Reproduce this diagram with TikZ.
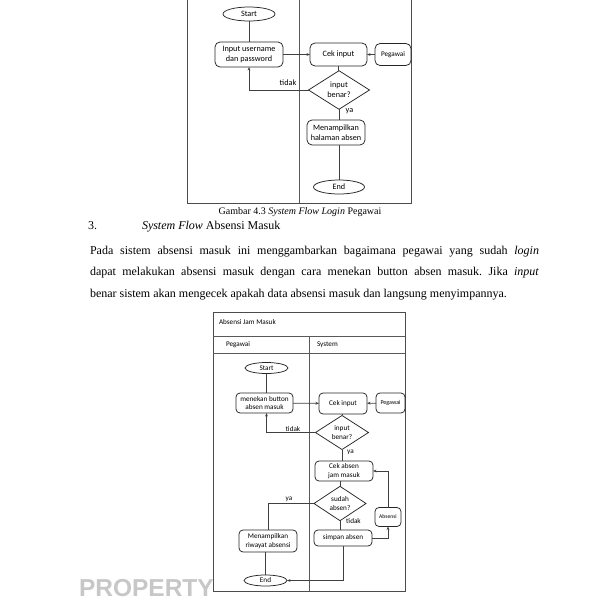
\documentclass[tikz,border=0pt]{standalone}
\usepackage{fontspec}
\setmainfont{Liberation Serif}
\newfontfamily\dsf{Carlito}
\newfontfamily\wmf{Liberation Sans}
\usetikzlibrary{shapes.geometric,arrows.meta}
\frenchspacing
\begin{document}
\begin{tikzpicture}[x=1pt,y=-1pt,
  every node/.style={inner sep=0pt, outer sep=0pt},
  frameline/.style={draw=black!70, line width=0.8pt},
  lane/.style={draw=black!65, line width=0.7pt},
  conn/.style={draw=black!75, line width=0.7pt},
  arr/.style={conn, -{Stealth[length=3.5pt,width=2.8pt]}},
  procA/.style={draw=black!85, line width=0.75pt, rounded corners=5pt, align=center, font=\dsf\fontsize{8.2}{9.6}\selectfont},
  termA/.style={draw=black!85, line width=0.75pt, ellipse, align=center, font=\dsf\fontsize{8.2}{9.6}\selectfont},
  decA/.style={draw=black!85, line width=0.75pt, diamond, align=center, font=\dsf\fontsize{8.2}{9.6}\selectfont},
  procB/.style={procA, font=\dsf\fontsize{7.2}{8.6}\selectfont, rounded corners=4pt},
  termB/.style={termA, font=\dsf\fontsize{7.2}{8.6}\selectfont},
  decB/.style={decA, font=\dsf\fontsize{7.2}{8.6}\selectfont},
  lblA/.style={font=\dsf\fontsize{8.2}{9.6}\selectfont},
  lblB/.style={font=\dsf\fontsize{7.2}{8.6}\selectfont},
  bodytxt/.style={font=\fontsize{12}{21.5}\selectfont}
]
\useasboundingbox (0,0) rectangle (600,600);
\fill[white] (0,0) rectangle (600,600);

% watermark
\node[anchor=base west, font=\wmf\bfseries\fontsize{24.5}{26}\selectfont, text=black!22] (wm) at (79,596) {PROPERTY};

% ---------- Diagram 1 ----------
\coordinate (f1a) at (187,0);
\coordinate (f1b) at (187,203);
\coordinate (f1c) at (411,203);
\coordinate (f1d) at (411,0);
\draw[frameline] (f1a) -- (f1b) -- (f1c) -- (f1d);
\coordinate (dv1a) at (299,0);
\coordinate (dv1b) at (299,203);
\draw[lane] (dv1a) -- (dv1b);

\node[termA, minimum width=52pt, minimum height=14pt] (st1) at (249,14) {Start};
\node[procA, minimum width=68pt, minimum height=25pt] (inp) at (249,54.5) {Input username\\dan password};
\node[procA, minimum width=57pt, minimum height=23pt] (cek1) at (338.5,54.5) {Cek input};
\node[procA, minimum width=36pt, minimum height=22pt, font=\dsf\fontsize{7.2}{9}\selectfont] (peg1) at (393,54.5) {Pegawai};
\node[decA, minimum width=61pt, minimum height=33pt] (d1) at (339,90) {input\\benar?};
\node[procA, minimum width=58pt, minimum height=25pt] (men1) at (336,132.5) {Menampilkan\\halaman absen};
\node[termA, minimum width=51pt, minimum height=14pt] (end1) at (339,187) {End};

\draw[conn] (st1) -- (inp);
\draw[arr] (inp) -- (cek1);
\draw[arr] (peg1) -- (cek1);
\draw[conn] (cek1.south) -- (cek1.south |- d1.north);
\draw[arr] (d1.west) -| (inp.south);
\draw[conn] (d1.south) -- (d1.south |- men1.north);
\draw[conn] (men1.south -| end1.north) -- (end1.north);
\node[lblA] (t1) at (288,83) {tidak};
\node[lblA] (y1) at (349.5,111.5) {ya};

% caption and text
\node[anchor=base, font=\fontsize{10}{12}\selectfont] (cap) at (300,214.5) {Gambar 4.3 \textit{System Flow Login} Pegawai};
\node[anchor=base west, bodytxt] (num) at (88,229) {3.};
\node[anchor=base west, bodytxt] (sec) at (142,229) {\textit{System Flow} Absensi Masuk};
\node[anchor=north west, bodytxt, text width=449pt, align=justify] (para) at (90,246)
{Pada sistem absensi masuk ini menggambarkan bagaimana pegawai yang sudah \textit{login}\linebreak dapat melakukan absensi masuk dengan cara menekan button absen masuk. Jika \textit{input}\linebreak benar sistem akan mengecek apakah data absensi masuk dan langsung menyimpannya.};

% ---------- Diagram 2 ----------
\coordinate (f2a) at (213,312);
\coordinate (f2b) at (405,591);
\draw[frameline] (f2a) rectangle (f2b);
\coordinate (h1a) at (213,336);
\coordinate (h1b) at (405,336);
\draw[lane] (h1a) -- (h1b);
\coordinate (h2a) at (213,353);
\coordinate (h2b) at (405,353);
\draw[lane] (h2a) -- (h2b);
\coordinate (dv2a) at (309,336);
\coordinate (dv2b) at (309,591);
\draw[lane] (dv2a) -- (dv2b);
\node[lblB, anchor=west] (ttl) at (219,322.5) {Absensi Jam Masuk};
\node[lblB, anchor=west] (lp) at (226,344.5) {Pegawai};
\node[lblB, anchor=west] (ls) at (317,344.5) {System};

\node[termB, minimum width=43pt, minimum height=11pt] (st2) at (266.5,368) {Start};
\node[procB, minimum width=57pt, minimum height=20pt] (btn) at (264.5,403) {menekan button\\absen masuk};
\node[procB, minimum width=48pt, minimum height=21pt] (cek2) at (343,403.5) {Cek input};
\node[procB, minimum width=29pt, minimum height=20pt, font=\dsf\fontsize{6}{7}\selectfont] (peg2) at (390.5,403) {Pegawai};
\node[decB, minimum width=53pt, minimum height=23pt] (d2) at (342,432.5) {input\\benar?};
\node[procB, minimum width=58pt, minimum height=20pt] (cka) at (344,471) {Cek absen\\jam masuk};
\node[decB, minimum width=52pt, minimum height=27pt] (d3) at (340,503.5) {sudah\\absen?};
\node[procB, minimum width=58pt, minimum height=16pt] (simp) at (343,538) {simpan absen};
\node[procB, minimum width=26pt, minimum height=19pt, font=\dsf\fontsize{5.6}{7}\selectfont] (abs) at (388,517) {Absensi};
\node[procB, minimum width=58pt, minimum height=22pt] (rw) at (268,541) {Menampilkan\\riwayat absensi};
\node[termB, minimum width=43pt, minimum height=11pt] (end2) at (265.5,580.5) {End};

\draw[conn] (st2.south) -- (st2.south |- btn.north);
\draw[arr] (btn) -- (cek2);
\draw[arr] (peg2) -- (cek2);
\draw[conn] (cek2.south -| d2.north) -- (d2.north);
\draw[arr] (d2.west) -| (st2.south |- btn.south);
\draw[conn] (d2.south) -- (d2.south |- cka.north);
\draw[conn] (cka.south -| d3.north) -- (d3.north);
\draw[conn] (d3.west) -| (rw.north);
\draw[conn] (d3.south) -- (d3.south |- simp.north);
\draw[arr] (simp.east) -| (abs.south);
\draw[arr] (abs.north) |- (cka.east);
\draw[conn] (rw.south -| end2.north) -- (end2.north);
\draw[arr] (simp.south) |- (end2.east);
\node[lblB] (t2) at (293,429.5) {tidak};
\node[lblB] (y2) at (350.5,452) {ya};
\node[lblB] (y3) at (289,499) {ya};
\node[lblB] (t3) at (353.5,521) {tidak};
\end{tikzpicture}
\end{document}
